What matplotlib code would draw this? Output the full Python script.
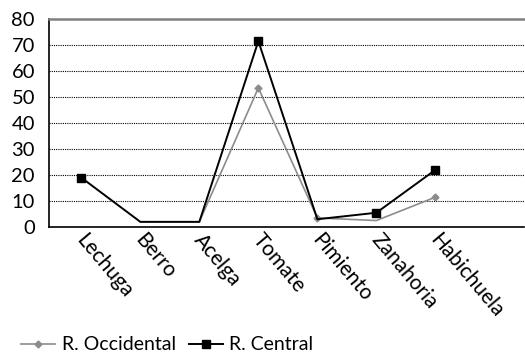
import numpy as np
import matplotlib
matplotlib.use('Agg')
import matplotlib.pyplot as plt

plt.rcParams['font.family'] = ['Lato', 'DejaVu Sans']

categories = ['Lechuga', 'Berro', 'Acelga', 'Tomate', 'Pimiento', 'Zanahoria', 'Habichuela']
occidental = [np.nan, 2, 2, 53.5, 3.5, 2.5, 11.5]
central = [19, 2, 2, 71.5, 3, 5.5, 22]
yticks = [0, 10, 20, 30, 40, 50, 60, 70, 80]

fig = plt.figure(figsize=(5.25, 3.52), dpi=100)
ax = fig.add_axes([0.093, 0.355, 0.905, 0.591])

x = np.arange(len(categories))
ax.plot(x, occidental, color='#8c8c8c', lw=1.2, marker='D', ms=3.5,
        markevery=[3, 4, 6], label='R. Occidental', zorder=3)
ax.plot(x, central, color='black', lw=1.4, marker='s', ms=6,
        markevery=[0, 3, 5, 6], label='R. Central', zorder=4)

ax.set_xlim(-0.55, 7.5)
ax.set_ylim(0, 80)
ax.set_yticks(yticks)
ax.set_yticklabels([str(v) for v in yticks], fontsize=14.5)
ax.tick_params(axis='y', length=0, pad=10)
ax.tick_params(axis='x', length=0, pad=2)
ax.set_xticks(x + 0.1)
ax.set_xticklabels(categories, fontsize=15, rotation=-50, ha='left',
                   va='top', rotation_mode='anchor')

for v in yticks[1:-1]:
    ax.axhline(v, color='black', lw=0.8, ls=(0, (1, 1)), zorder=1)

ax.spines['top'].set_color('#808080')
ax.spines['top'].set_linewidth(1.8)
ax.spines['right'].set_visible(False)
ax.spines['left'].set_linewidth(1.2)
ax.spines['bottom'].set_linewidth(1.2)

fig.legend(loc='center left', bbox_to_anchor=(0.04, 0.02), ncol=2, frameon=False,
           fontsize=14, handlelength=1.75, handletextpad=0.35, columnspacing=0.65,
           borderpad=0, borderaxespad=0)

fig.savefig('out.png', dpi=100)
